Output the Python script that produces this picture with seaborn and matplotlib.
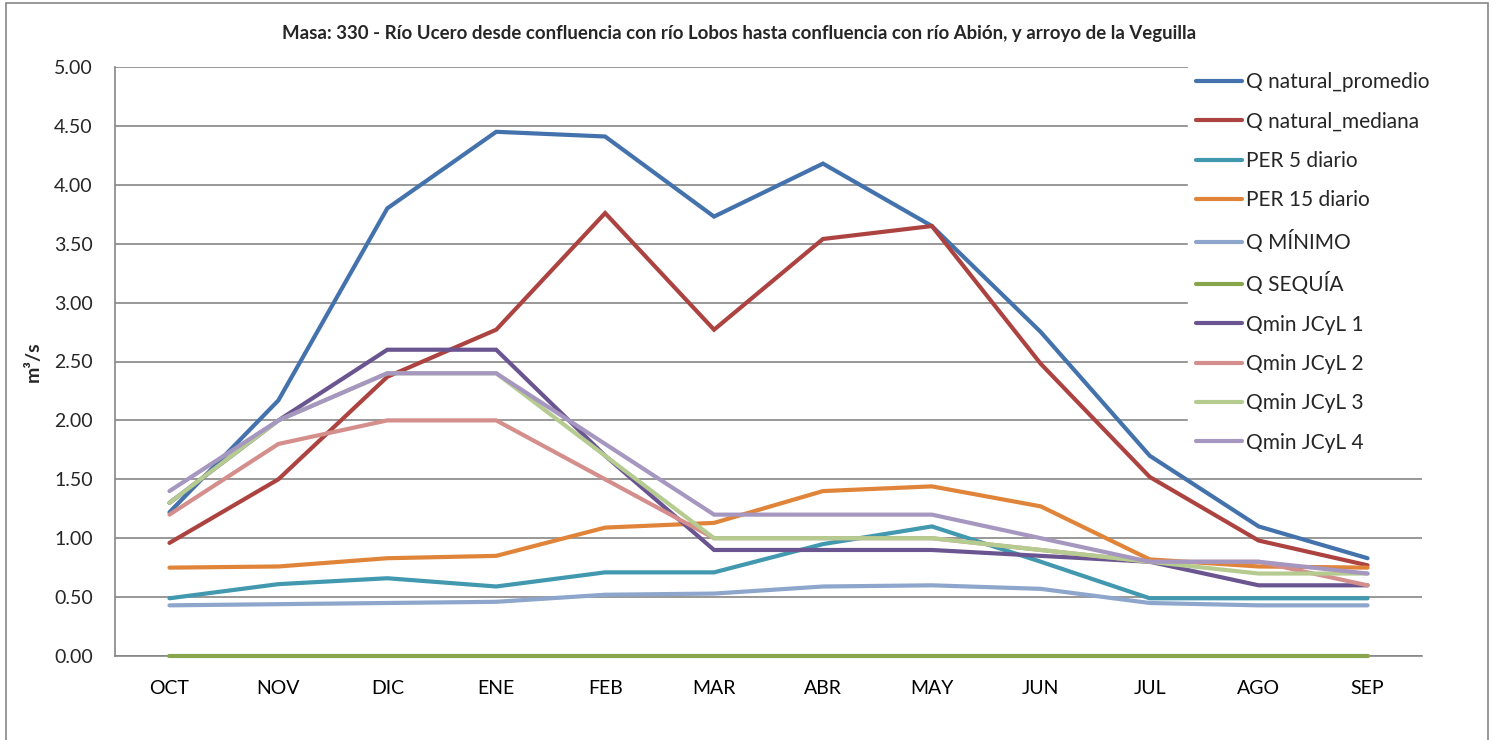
import matplotlib
matplotlib.use("Agg")
import matplotlib.pyplot as plt
import seaborn as sns
import pandas as pd
from matplotlib.patches import Rectangle

months = ["OCT", "NOV", "DIC", "ENE", "FEB", "MAR", "ABR", "MAY", "JUN", "JUL", "AGO", "SEP"]

q_natural_promedio = [1.22, 2.17, 3.80, 4.45, 4.41, 3.73, 4.18, 3.65, 2.75, 1.70, 1.10, 0.83]
q_natural_mediana = [0.96, 1.50, 2.37, 2.77, 3.76, 2.77, 3.54, 3.65, 2.48, 1.52, 0.98, 0.77]
per_5_diario = [0.49, 0.61, 0.66, 0.59, 0.71, 0.71, 0.95, 1.10, 0.80, 0.49, 0.49, 0.49]
per_15_diario = [0.75, 0.76, 0.83, 0.85, 1.09, 1.13, 1.40, 1.44, 1.27, 0.82, 0.76, 0.75]
q_minimo = [0.43, 0.44, 0.45, 0.46, 0.52, 0.53, 0.59, 0.60, 0.57, 0.45, 0.43, 0.43]
q_sequia = [0.0] * 12
qmin_jcyl_1 = [1.30, 2.00, 2.60, 2.60, 1.70, 0.90, 0.90, 0.90, 0.85, 0.80, 0.60, 0.60]
qmin_jcyl_2 = [1.20, 1.80, 2.00, 2.00, 1.50, 1.00, 1.00, 1.00, 0.90, 0.80, 0.80, 0.60]
qmin_jcyl_3 = [1.30, 2.00, 2.40, 2.40, 1.70, 1.00, 1.00, 1.00, 0.90, 0.80, 0.70, 0.70]
qmin_jcyl_4 = [1.40, 2.00, 2.40, 2.40, 1.80, 1.20, 1.20, 1.20, 1.00, 0.80, 0.80, 0.70]

series_names = ["Q natural_promedio", "Q natural_mediana", "PER 5 diario", "PER 15 diario",
                "Q MÍNIMO", "Q SEQUÍA", "Qmin JCyL 1", "Qmin JCyL 2", "Qmin JCyL 3", "Qmin JCyL 4"]
series_values = [q_natural_promedio, q_natural_mediana, per_5_diario, per_15_diario,
                 q_minimo, q_sequia, qmin_jcyl_1, qmin_jcyl_2, qmin_jcyl_3, qmin_jcyl_4]
colors = ["#4372AC", "#AC4340", "#4198AF", "#E0843A", "#8EA6CC",
          "#87A54B", "#6A5590", "#D48E8C", "#B5CB90", "#A597BF"]

title = "Masa: 330 - Río Ucero desde confluencia con río Lobos hasta confluencia con río Abión, y arroyo de la Veguilla"

rows = []
for name, vals in zip(series_names, series_values):
    for m, v in zip(months, vals):
        rows.append({"mes": m, "caudal": v, "serie": name})
df = pd.DataFrame(rows)

sns.set_theme(style="white")
plt.rcParams["font.family"] = ["Lato", "DejaVu Sans"]

fig = plt.figure(figsize=(14.99, 7.40), dpi=100)
ax = fig.add_axes([115 / 1499, 84 / 740, (1422 - 115) / 1499, (656 - 67) / 740])

sns.lineplot(data=df, x="mes", y="caudal", hue="serie", hue_order=series_names,
             palette=colors, linewidth=3.0, sort=False, legend=False, ax=ax)
for ln in ax.get_lines():
    ln.set_solid_capstyle("round")
    ln.set_solid_joinstyle("miter")
    ln.set_clip_on(False)
    ln.set_zorder(3)

gray = "#868686"
ax.set_xlim(-0.5, 11.5)
ax.set_ylim(0, 5)
ax.set_yticks([i * 0.5 for i in range(11)])
ax.set_yticklabels([f"{i * 0.5:.2f}" for i in range(11)], fontsize=14)
ax.set_xticks(range(12))
ax.set_xticklabels(months, fontsize=14)
ax.set_xticks([i - 0.5 for i in range(13)], minor=True)
ax.tick_params(axis="x", which="major", length=0, pad=17, colors="black")
ax.tick_params(axis="x", which="minor", length=6, width=1, color=gray, direction="out")
ax.tick_params(axis="y", which="major", length=6, width=1, color=gray, direction="out", pad=10)
ax.yaxis.grid(True, color=gray, linewidth=1.2)
ax.set_axisbelow(True)
for s in ["top", "right"]:
    ax.spines[s].set_visible(False)
for s in ["left", "bottom"]:
    ax.spines[s].set_color(gray)
    ax.spines[s].set_linewidth(1.2)

ax.set_xlabel("")
ax.set_ylabel("m³/s", fontsize=14, fontweight="bold", labelpad=9)
fig.text(739 / 1499, 1 - 33 / 740, title, ha="center", va="center",
         fontsize=13.4, fontweight="bold")

handles = ax.get_lines()[:len(series_names)]
leg = fig.legend(handles, series_names, loc="upper left",
                 bbox_to_anchor=(1188 / 1499, 1 - 64 / 740), frameon=True,
                 fontsize=15, handlelength=2.2, handletextpad=0.2,
                 labelspacing=0.93, borderaxespad=0, borderpad=0.4)
leg.get_frame().set_facecolor("white")
leg.get_frame().set_edgecolor("white")
leg.get_frame().set_alpha(1)

# chart-area frame (open at the bottom edge of the image)
fig.patches.append(Rectangle((6 / 1499, -10 / 740), (1488 - 6) / 1499, (737 + 10) / 740,
                             transform=fig.transFigure, fill=False,
                             edgecolor=gray, linewidth=1.2))

fig.savefig("out.png", dpi=100, facecolor="white")
